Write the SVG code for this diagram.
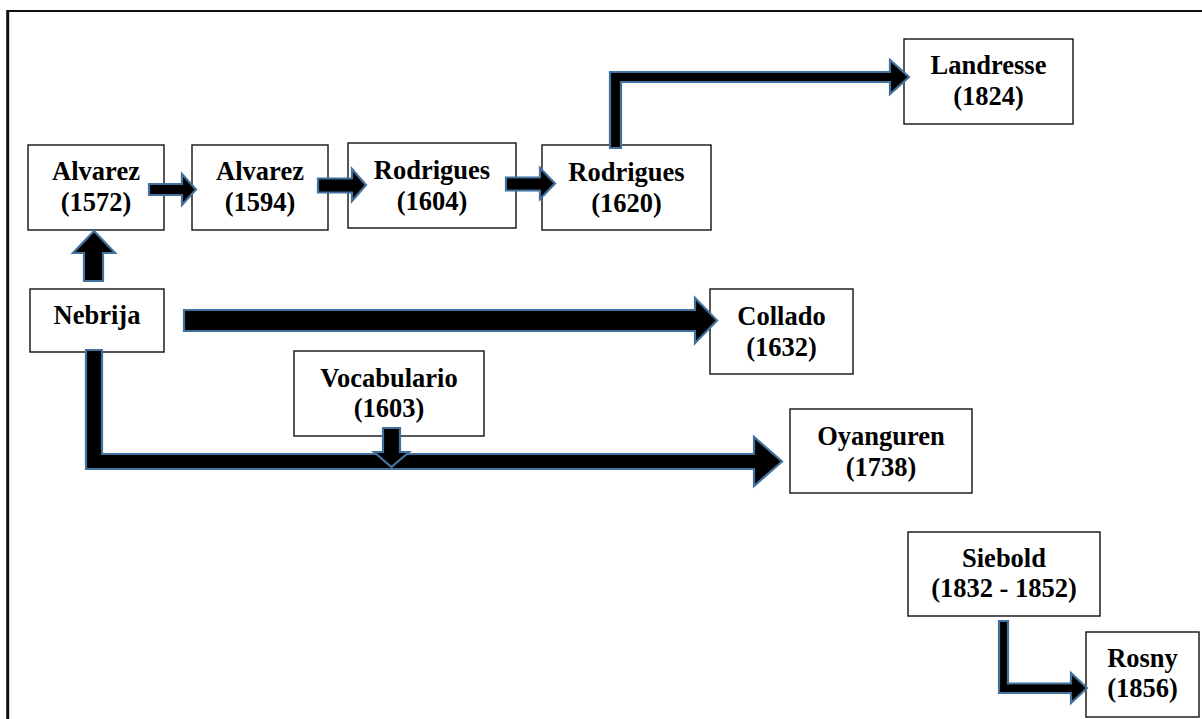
<svg xmlns="http://www.w3.org/2000/svg" width="1202" height="719" viewBox="0 0 1202 719">
  <style>
    .box { fill: #ffffff; stroke: #111111; stroke-width: 1.4; }
    .lbl { font-family: "Liberation Serif", "Times New Roman", serif; font-weight: bold; font-size: 26.5px; fill: #000000; text-anchor: middle; }
    .arrow { fill: #000000; stroke: #41719C; stroke-width: 2.2; stroke-linejoin: miter; }
    .frame { stroke: #111111; fill: none; }
  </style>
  <rect width="1202" height="719" fill="#ffffff"/>

  <!-- page frame -->
  <line class="frame" x1="7.7" y1="11" x2="1202" y2="11" stroke-width="1.8"/>
  <line class="frame" x1="7.7" y1="10" x2="7.7" y2="719" stroke-width="3"/>

  <!-- nodes -->
  <g id="alvarez-1572">
    <rect class="box" x="28" y="145" width="136" height="85"/>
    <text class="lbl" x="96" y="180">Alvarez</text>
    <text class="lbl" x="96" y="211">(1572)</text>
  </g>
  <g id="alvarez-1594">
    <rect class="box" x="192" y="145" width="136" height="85"/>
    <text class="lbl" x="260" y="180">Alvarez</text>
    <text class="lbl" x="260" y="211">(1594)</text>
  </g>
  <g id="rodrigues-1604">
    <rect class="box" x="348" y="143" width="168" height="85"/>
    <text class="lbl" x="432" y="179">Rodrigues</text>
    <text class="lbl" x="432" y="210">(1604)</text>
  </g>
  <g id="rodrigues-1620">
    <rect class="box" x="542" y="145" width="169" height="85"/>
    <text class="lbl" x="626.5" y="181">Rodrigues</text>
    <text class="lbl" x="626.5" y="212">(1620)</text>
  </g>
  <g id="landresse-1824">
    <rect class="box" x="904" y="39" width="169" height="85"/>
    <text class="lbl" x="988.5" y="74">Landresse</text>
    <text class="lbl" x="988.5" y="105">(1824)</text>
  </g>
  <g id="nebrija">
    <rect class="box" x="30" y="289" width="134" height="63"/>
    <text class="lbl" x="97" y="324">Nebrija</text>
  </g>
  <g id="collado-1632">
    <rect class="box" x="710" y="289" width="143" height="85"/>
    <text class="lbl" x="781.5" y="325">Collado</text>
    <text class="lbl" x="781.5" y="356">(1632)</text>
  </g>
  <g id="vocabulario-1603">
    <rect class="box" x="294" y="351" width="190" height="85"/>
    <text class="lbl" x="389" y="387">Vocabulario</text>
    <text class="lbl" x="389" y="417">(1603)</text>
  </g>
  <g id="oyanguren-1738">
    <rect class="box" x="790" y="409" width="182" height="84"/>
    <text class="lbl" x="881" y="445">Oyanguren</text>
    <text class="lbl" x="881" y="476">(1738)</text>
  </g>
  <g id="siebold-1832-1852">
    <rect class="box" x="908" y="532" width="192" height="84"/>
    <text class="lbl" x="1004" y="567">Siebold</text>
    <text class="lbl" x="1004" y="597">(1832 - 1852)</text>
  </g>
  <g id="rosny-1856">
    <rect class="box" x="1086" y="632" width="113" height="85"/>
    <text class="lbl" x="1142.5" y="667">Rosny</text>
    <text class="lbl" x="1142.5" y="697">(1856)</text>
  </g>

  <!-- block-arrow connectors -->
  <g id="connectors">
    <path class="arrow" d="M149,184 H182 V174 L196,189.5 L182,205 V195 H149 Z"/>
    <path class="arrow" d="M318,178.5 H352 V169 L366,185 L352,201 V192.5 H318 Z"/>
    <path class="arrow" d="M506,177.5 H540 V168 L555,183.5 L540,199 V190.5 H506 Z"/>
    <path class="arrow" d="M610,148 V72 H890 V60 L909,77 L890,94 V82 H621 V148 Z"/>
    <path class="arrow" d="M84,281 V253 H73 L94,231 L115,253 H103 V281 Z"/>
    <path class="arrow" d="M184,310 H695 V298 L717,320.5 L695,343 V331 H184 Z"/>
    <path class="arrow" d="M86,350 H102 V454 H754 V437 L782,461.5 L754,486 V469 H86 Z"/>
    <path class="arrow" d="M383,428 H400 V452 H409 L391.5,467 L374,452 H383 Z"/>
    <path class="arrow" d="M999,621 H1008 V683.5 H1071 V673 L1087,688 L1071,703 V693 H999 Z"/>
  </g>
</svg>
